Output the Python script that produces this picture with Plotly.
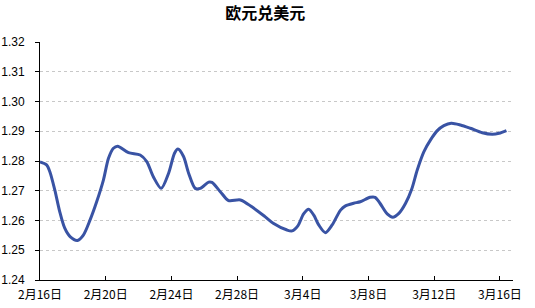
import plotly.graph_objects as go

tick_labels = ["2月16日", "2月20日", "2月24日", "2月28日", "3月4日", "3月8日", "3月12日", "3月16日"]
tick_days = [0, 4, 8, 12, 16, 20, 24, 28]

days = [0, 0.4, 0.6, 0.9, 1.2, 1.5, 1.83, 2.28, 2.64, 3.05, 3.45, 3.86, 4.17, 4.47, 4.73,
        5.39, 6.1, 6.5, 6.9, 7.38, 7.83, 8.19, 8.4, 8.74, 9.05, 9.45, 9.76, 10.27, 10.47,
        10.98, 11.48, 12.2, 12.9, 13.7, 14.2, 15.04, 15.35, 15.7, 16.05, 16.36, 16.67,
        16.97, 17.38, 17.79, 18.3, 18.6, 19.1, 19.5, 20.1, 20.4, 20.7, 21.14, 21.48,
        21.85, 22.26, 22.63, 22.97, 23.37, 23.78, 24.19, 24.59, 25.04, 25.6, 26.2,
        26.93, 27.54, 27.95, 28.4]
rates = [1.2797, 1.2787, 1.2764, 1.2703, 1.2630, 1.2575, 1.2546, 1.2533, 1.2551, 1.2602,
         1.2663, 1.2736, 1.2809, 1.2843, 1.2850, 1.2828, 1.2820, 1.2798, 1.2747, 1.2708,
         1.2759, 1.2826, 1.2840, 1.2815, 1.2759, 1.2708, 1.2708, 1.2729, 1.2728, 1.2697,
         1.2667, 1.2669, 1.2646, 1.2613, 1.2591, 1.2568, 1.2565, 1.2582, 1.2622, 1.2638,
         1.2618, 1.2585, 1.2559, 1.2585, 1.2635, 1.2649, 1.2658, 1.2663, 1.2678, 1.2678,
         1.2658, 1.2622, 1.2611, 1.2624, 1.2658, 1.2705, 1.2770, 1.2831, 1.2871, 1.2902,
         1.2919, 1.2927, 1.2921, 1.2910, 1.2895, 1.2890, 1.2893, 1.2902]

y_ticks = [1.24, 1.25, 1.26, 1.27, 1.28, 1.29, 1.30, 1.31, 1.32]
y_labels = ["1.24", "1.25", "1.26", "1.27", "1.28", "1.29", "1.30", "1.31", "1.32"]

fig = go.Figure()
fig.add_trace(go.Scatter(
    x=days, y=rates, mode="lines",
    line=dict(color="#3953A4", width=3, shape="spline", smoothing=0.8),
    hoverinfo="skip", showlegend=False,
))

fig.update_layout(
    width=535, height=308,
    margin=dict(l=40, r=22, t=42, b=28),
    paper_bgcolor="white", plot_bgcolor="white",
    font=dict(family="Liberation Sans, Arial, sans-serif", size=12, color="black"),
    title=dict(text="<b>欧元兑美元</b>", x=0.496, xanchor="center", y=1 - 13 / 308,
               yanchor="middle", yref="container",
               font=dict(family="Noto Sans CJK SC", size=16, color="black")),
)
fig.update_xaxes(
    range=[0, 28.8], tickvals=tick_days, ticktext=tick_labels,
    showgrid=False, zeroline=False, automargin=False,
    showline=True, linecolor="black", linewidth=1,
    ticks="inside", ticklen=4, tickcolor="black",
    tickfont=dict(family="Noto Sans CJK SC", size=12),
    ticklabelstandoff=4,
)
fig.update_yaxes(
    range=[1.24, 1.32], tickvals=y_ticks, ticktext=y_labels,
    showgrid=True, gridcolor="#c8c8c8", griddash="3px,3px", gridwidth=1,
    zeroline=False, showline=True, linecolor="black", linewidth=1,
    ticks="outside", ticklen=4, tickcolor="black",
    ticklabelstandoff=8, automargin=False,
)

fig.write_html("out.html")
